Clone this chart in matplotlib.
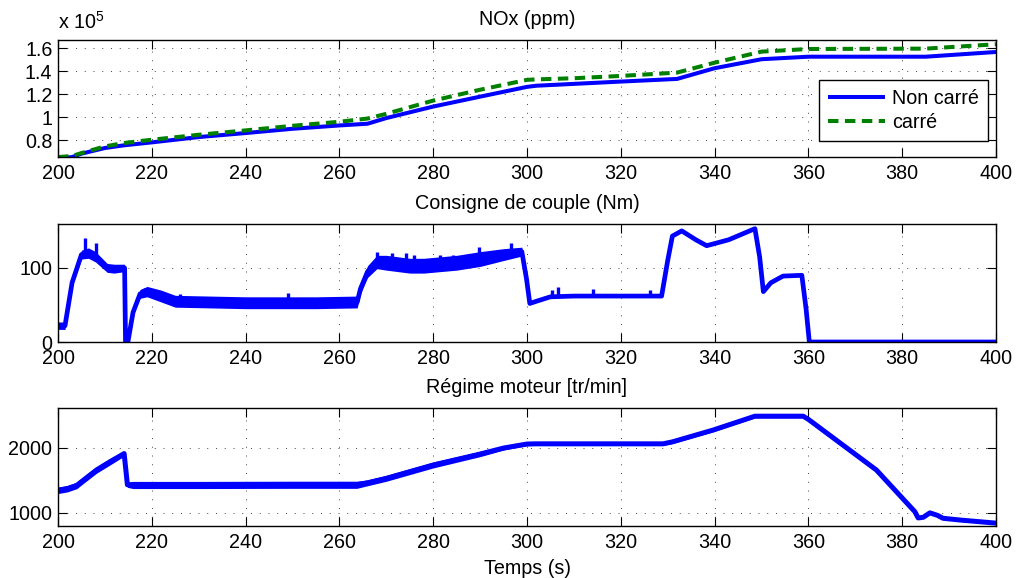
import matplotlib
matplotlib.use("Agg")
import matplotlib.pyplot as plt
from matplotlib.ticker import FuncFormatter
import numpy as np

plt.rcParams['font.family'] = ['Liberation Sans', 'DejaVu Sans']
plt.rcParams['mathtext.fontset'] = 'custom'
plt.rcParams['mathtext.rm'] = 'Liberation Sans'

# ---------------- data ----------------
x_ticks = [200, 220, 240, 260, 280, 300, 320, 340, 360, 380, 400]

nox_t = [200, 203, 205, 210, 214, 220, 230, 240, 250, 260, 266, 270, 280, 290,
         300, 302, 310, 320, 332, 340, 350, 360, 385, 400]
nox_non_carre = [64500, 65500, 68500, 73400, 75700, 78300, 82900, 86400, 90100, 93000,
                 94500, 99400, 109400, 118000, 126500, 127500, 129100, 131100, 133400,
                 142700, 150500, 152700, 152700, 156800]
nox_carre = [65500, 66500, 69000, 74800, 77700, 80600, 84900, 88700, 92700, 96200,
             99000, 103100, 114600, 124000, 132600, 133000, 134000, 136000, 138900,
             147500, 157100, 159400, 159700, 163500]
nox_yticks = [80000, 100000, 120000, 140000, 160000]

torque_t = [200, 201.5, 201.7, 203, 205, 206.5, 208, 210.5, 212, 214.2, 214.4, 214.9,
            216, 217.5, 219, 222, 225, 240, 255, 263.8, 264.5, 266, 268, 270, 275, 278,
            285, 290, 295, 298.9, 299.9, 300.6, 302, 305, 310, 320, 328.7, 330, 331, 333,
            336, 338.3, 343, 348.6, 349.6, 350.4, 352, 354.6, 358.6, 359.5, 360.2, 400]
torque_val = [22, 22, 30, 80, 118, 120, 115, 100, 99, 100, 0, 0,
              40, 65, 68, 62, 55, 53, 53, 54, 72, 95, 108, 107, 103, 103,
              107, 112, 118, 122, 85, 52, 55, 61, 62, 62, 62, 110, 143, 150,
              138, 130, 138, 153, 115, 68, 80, 89, 90, 45, 0, 0]
torque_noise = [5, 5, 4, 5, 6, 7, 7, 6, 6, 5, 0, 0,
                4, 6, 7, 8, 8, 8, 8, 8, 7, 8, 9, 10, 10, 10,
                10, 10, 8, 6, 1, 1, 1, 1, 1, 1, 1, 1, 1, 1,
                1, 1, 1, 1, 1, 1, 1, 1, 1, 0, 0, 0]
torque_spike_t = [205.8, 208.1, 218.5, 226, 249, 268, 271.3, 274.2, 276, 281.5, 284.3,
                  289.8, 296.5, 305.3, 306.6, 314, 326.2]
torque_spike_top = [140, 134, 73, 65, 66, 122, 120, 120, 118, 118, 118,
                    128, 134, 70, 74, 71, 70]
torque_yticks = [0, 100]

speed_t = [200, 202, 204, 205.4, 208.2, 211.1, 214.1, 214.8, 216, 230, 250, 263.7, 266,
           270, 280, 290, 295, 300, 302, 329, 331, 339.7, 348.6, 358.9, 360, 374.5,
           382.7, 383.4, 384.5, 385.9, 387.5, 388.7, 392.3, 400]
speed_val = [1345, 1370, 1420, 1500, 1657, 1785, 1910, 1430, 1427, 1427, 1430, 1430, 1460,
             1529, 1734, 1903, 1995, 2057, 2060, 2060, 2090, 2272, 2485, 2485, 2436, 1657,
             1016, 920, 930, 998, 960, 915, 888, 840]
speed_noise = [50, 50, 50, 50, 50, 50, 40, 40, 55, 55, 55, 55, 45,
               45, 45, 40, 30, 25, 25, 25, 25, 25, 25, 25, 10, 5,
               5, 5, 5, 5, 5, 5, 5, 5]
speed_yticks = [1000, 2000]

# ---------------- figure ----------------
W, H = 1016, 578
fig = plt.figure(figsize=(W / 100, H / 100), dpi=100)

def pos(top, bottom, left=58, right=996):
    return [left / W, 1 - bottom / H, (right - left) / W, (bottom - top) / H]

FS = 14.2
BLUE = '#0000ff'
GREEN = '#008000'

def style(ax, yticks):
    ax.set_xlim(200, 400)
    ax.set_xticks(x_ticks)
    ax.set_yticks(yticks)
    ax.tick_params(direction='in', length=6.5, width=0.8, top=True, right=True,
                   labelsize=FS, colors='k', pad=5)
    ax.tick_params(axis='y', pad=4)
    ax.grid(True, color='#444444', linestyle=(0, (1, 8)), linewidth=0.7)
    for s in ax.spines.values():
        s.set_linewidth(1.0)
        s.set_color('k')
    ax.set_axisbelow(True)

# Panel 1
ax1 = fig.add_axes(pos(40, 157))
ax1.plot(nox_t, nox_non_carre, color=BLUE, lw=2.9, label='Non carré', solid_capstyle='butt')
ax1.plot(nox_t, nox_carre, color=GREEN, lw=2.9, dashes=(2.6, 1.6), label='carré')
ax1.set_ylim(65600, 167200)
style(ax1, nox_yticks)
ax1.yaxis.set_major_formatter(FuncFormatter(lambda v, p: '%g' % (v / 1e5)))
ax1.set_title('NOx (ppm)', fontsize=FS, pad=10.7)
ax1.text(0.0, 1.06, r'x 10$^{5}$', transform=ax1.transAxes, fontsize=FS,
         ha='left', va='bottom')
leg = ax1.legend(loc='lower right', bbox_to_anchor=(0.9915, 0.137), fontsize=FS,
                 frameon=True, fancybox=False, framealpha=1, edgecolor='k',
                 handlelength=2.9, handletextpad=0.35, borderpad=0.45, labelspacing=0.25,
                 borderaxespad=0)
leg.get_frame().set_linewidth(1.0)

# Panel 2
ax2 = fig.add_axes(pos(224, 342))
lo = np.array(torque_val) - np.array(torque_noise)
hi = np.array(torque_val) + np.array(torque_noise)
ax2.fill_between(torque_t, lo, hi, color=BLUE, lw=0)
ax2.plot(torque_t, torque_val, color=BLUE, lw=3.4)
ax2.vlines(torque_spike_t, np.interp(torque_spike_t, torque_t, torque_val),
           torque_spike_top, color=BLUE, lw=2.4)
ax2.set_ylim(0, 159.3)
style(ax2, torque_yticks)
ax2.set_title('Consigne de couple (Nm)', fontsize=FS, pad=10.7)

# Panel 3
ax3 = fig.add_axes(pos(408, 526))
lo3 = np.array(speed_val) - np.array(speed_noise)
hi3 = np.array(speed_val) + np.array(speed_noise)
ax3.fill_between(speed_t, lo3, hi3, color=BLUE, lw=0)
ax3.plot(speed_t, speed_val, color=BLUE, lw=3.6)
ax3.set_ylim(796, 2611)
style(ax3, speed_yticks)
ax3.set_title('Régime moteur [tr/min]', fontsize=FS, pad=10.7)
ax3.set_xlabel('Temps (s)', fontsize=FS, labelpad=5)

fig.savefig('out.png', dpi=100, facecolor='white')
